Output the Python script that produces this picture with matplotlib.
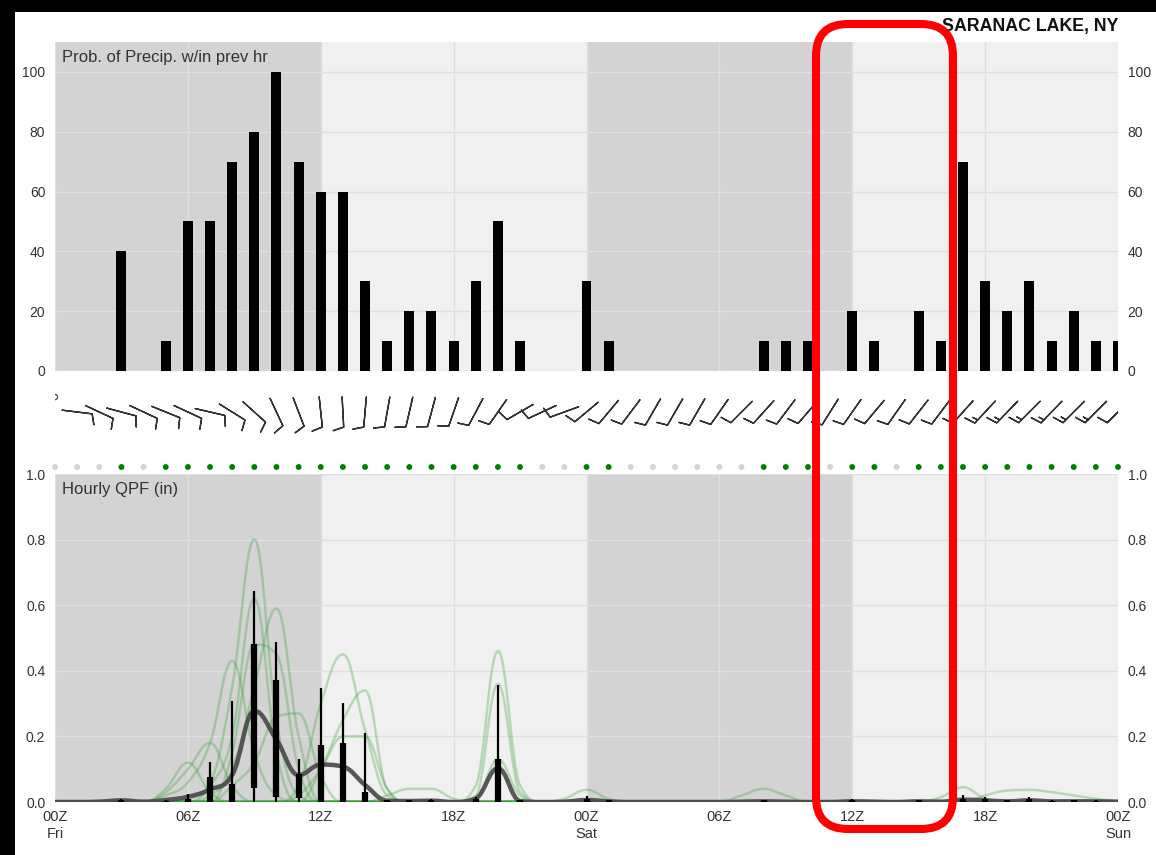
import numpy as np
import matplotlib.pyplot as plt
from matplotlib.path import Path
from matplotlib.patches import PathPatch, FancyBboxPatch, Rectangle

plt.rcParams['font.family'] = ['Liberation Sans', 'DejaVu Sans']

# hours since 00Z Fri
hours = np.arange(49)
tick_hours = [0, 6, 12, 18, 24, 30, 36, 42, 48]
tick_labels = ["00Z\nFri", "06Z", "12Z", "18Z", "00Z\nSat", "06Z", "12Z", "18Z", "00Z\nSun"]
night_start = [0, 24]
night_end = [12, 36]

# probability of precip in previous hour (%)
pop = [0, 0, 0, 40, 0, 10, 50, 50, 70, 80, 100, 70, 60, 60, 30, 10, 20, 20, 10, 30, 50, 10, 0, 0,
       30, 10, 0, 0, 0, 0, 0, 0, 10, 10, 10, 0, 20, 10, 0, 20, 10, 70, 30, 20, 30, 10, 20, 10, 10]

# wind (direction from, deg / speed, kt)
wind_dir = [0, 97, 115, 105, 115, 112, 115, 103, 122, 132, 155, 159, 174, 177, 185, 190, 193, 195,
            199, 208, 215, 240, 245, 250, 230, 220, 217, 210, 210, 210, 215, 225, 222, 217, 221,
            212, 215, 220, 215, 218, 217, 222, 223, 224, 225, 224, 225, 225, 225]
wind_spd = [0] + [10] * 40 + [15] * 7 + [10]

# QPF ensemble mean (in)
qpf_mean = [0, 0, 0.001, 0.005, 0.001, 0.006, 0.016, 0.038, 0.082, 0.278, 0.19, 0.082, 0.114,
            0.108, 0.052, 0.004, 0.003, 0.004, 0.0, 0.011, 0.103, 0.003, 0, 0.001, 0.006, 0.002,
            0, 0, 0, 0, 0, 0.001, 0.002, 0.001, 0, 0, 0.002, 0.001, 0, 0.002, 0.001, 0.007, 0.005,
            0.002, 0.005, 0.002, 0.002, 0.002, 0.001]

# QPF box / whisker stats
box_hours = [3, 5, 6, 7, 8, 9, 10, 11, 12, 13, 14, 15, 16, 17, 19, 20, 21, 24, 25, 32,
             36, 39, 41, 42, 43, 44, 45, 46, 47]
box_top = [0.010, 0.006, 0.025, 0.121, 0.309, 0.643, 0.487, 0.130, 0.349, 0.302, 0.211, 0.006,
           0.006, 0.008, 0.016, 0.357, 0.006, 0.018, 0.006, 0.006, 0.008, 0.006, 0.020, 0.016,
           0.006, 0.016, 0.005, 0.006, 0.005]
box_q3 = [0.006, 0.004, 0.010, 0.075, 0.055, 0.482, 0.371, 0.084, 0.175, 0.179, 0.031, 0.006,
          0.005, 0.006, 0.008, 0.130, 0.005, 0.008, 0.005, 0.005, 0.006, 0.005, 0.010, 0.008,
          0.005, 0.008, 0.004, 0.005, 0.004]
box_q1 = [0, 0, 0, 0, 0, 0.044, 0.016, 0.011, 0, 0, 0, 0, 0, 0, 0, 0, 0, 0, 0, 0,
          0, 0, 0, 0, 0, 0, 0, 0, 0]

# ensemble members: (first hour, hourly QPF), zero elsewhere
members = [
    (6, [0.01, 0.06, 0.35, 0.80, 0.25, 0.02, 0.0]),
    (7, [0.02, 0.10, 0.35, 0.59, 0.20, 0.0]),
    (4, [0.0, 0.02, 0.06, 0.18, 0.43, 0.15, 0.02, 0.0]),
    (10, [0.0, 0.05, 0.30, 0.45, 0.22, 0.02, 0.0]),
    (11, [0.0, 0.10, 0.25, 0.34, 0.04, 0.0]),
    (4, [0.0, 0.03, 0.10, 0.18, 0.05, 0.0]),
    (4, [0.0, 0.04, 0.12, 0.03, 0.0]),
    (8, [0.05, 0.12, 0.26, 0.27, 0.08, 0.0]),
    (11, [0.02, 0.10, 0.20, 0.20, 0.04, 0.0]),
    (7, [0.05, 0.20, 0.62, 0.15, 0.0]),
    (7, [0.0, 0.15, 0.48, 0.45, 0.10, 0.0]),
    (18, [0.0, 0.05, 0.46, 0.05, 0.0]),
    (18, [0.0, 0.02, 0.36, 0.03, 0.0]),
    (18, [0.0, 0.01, 0.13, 0.02, 0.0]),
    (14, [0.0, 0.02, 0.04, 0.04, 0.01, 0.0]),
    (22, [0.0, 0.01, 0.037, 0.01, 0.0]),
    (30, [0.0, 0.02, 0.04, 0.02, 0.0]),
    (39, [0.0, 0.015, 0.045, 0.01, 0.0]),
    (41, [0.0, 0.02, 0.035, 0.037, 0.03, 0.02, 0.01, 0.0]),
]


def spline_path(xs, ys, smoothing=1.5):
    # smooth curve through the points, control points kept inside neighbours
    n = len(xs)
    lc, rc = [None] * n, [None] * n
    for i in range(n):
        x, y = xs[i], ys[i]
        if i == 0 or i == n - 1:
            lc[i] = rc[i] = (x, y)
            continue
        lx, ly, nx, ny = xs[i - 1], ys[i - 1], xs[i + 1], ys[i + 1]
        d = smoothing + 1
        lcx, lcy = (smoothing * x + lx) / d, (smoothing * y + ly) / d
        rcx, rcy = (smoothing * x + nx) / d, (smoothing * y + ny) / d
        corr = ((rcy - lcy) * (rcx - x)) / (rcx - lcx) + y - rcy
        lcy += corr
        rcy += corr
        if lcy > max(ly, y):
            lcy = max(ly, y); rcy = 2 * y - lcy
        elif lcy < min(ly, y):
            lcy = min(ly, y); rcy = 2 * y - lcy
        if rcy > max(ny, y):
            rcy = max(ny, y); lcy = 2 * y - rcy
        elif rcy < min(ny, y):
            rcy = min(ny, y); lcy = 2 * y - rcy
        lc[i], rc[i] = (lcx, lcy), (rcx, rcy)
    verts = [(xs[0], ys[0])]
    codes = [Path.MOVETO]
    for i in range(1, n):
        verts += [rc[i - 1], lc[i], (xs[i], ys[i])]
        codes += [Path.CURVE4] * 3
    return Path(verts, codes)


W, H = 1156, 855
fig = plt.figure(figsize=(W / 100, H / 100), dpi=100)
fig.patch.set_facecolor('white')

left, width = 55 / W, 1063 / W
ax1 = fig.add_axes([left, 1 - 371 / H, width, 329 / H])
axm = fig.add_axes([left, 1 - 472 / H, width, 100 / H])
ax2 = fig.add_axes([left, 1 - 802 / H, width, 328 / H])

DARK, LIGHT, GRID, TXT = '#d3d3d3', '#f0f0f0', '#dfdfdf', '#333333'

for ax in (ax1, ax2):
    ax.set_facecolor(LIGHT)
    for s, e in zip(night_start, night_end):
        ax.axvspan(s, e, color=DARK, lw=0, zorder=0)
    ax.set_xlim(0, 48)
    ax.set_xticks(tick_hours)
    ax.grid(True, color=GRID, lw=1, zorder=1)
    ax.set_axisbelow(True)
    for sp in ax.spines.values():
        sp.set_visible(False)
    ax.tick_params(axis='y', length=0, labelleft=True, labelright=True,
                   labelsize=10, labelcolor=TXT, pad=7)

# top panel: PoP bars
ax1.set_ylim(0, 110)
ax1.set_yticks(range(0, 101, 20))
ax1.tick_params(axis='x', length=0, labelbottom=False)
ax1.bar(hours, pop, width=0.45, color='black', zorder=3)
ax1.text(0.007, 0.954, "Prob. of Precip. w/in prev hr", transform=ax1.transAxes,
         fontsize=12, color=TXT, va='center', ha='left')

# middle strip: wind barbs and precip dots
axm.set_xlim(0, 48)
axm.set_ylim(0, 100)
axm.axis('off')
spd = np.array(wind_spd, dtype=float)
rad = np.deg2rad(wind_dir)
u = -spd * np.sin(rad)
v = -spd * np.cos(rad)
windy = spd > 0
axm.barbs(hours[windy], np.full(windy.sum(), 60), u[windy], v[windy],
          length=6.6, pivot='middle', color='#333333', linewidth=1.0,
          sizes=dict(height=0.35, width=0.2, spacing=0.14))
axm.scatter(hours[~windy], np.full((~windy).sum(), 75), s=14, marker='o',
            facecolors='none', edgecolors='#555555', linewidths=1)
dot_colors = ['#008000' if p > 0 else '#d3d3d3' for p in pop]
axm.scatter(hours, np.full(len(hours), 5), s=18, c=dot_colors, lw=0, clip_on=False)

# bottom panel: QPF
ax2.set_ylim(0, 1.0)
ax2.set_yticks(np.arange(0, 1.01, 0.2))
ax2.set_yticklabels([f"{t:.1f}" for t in np.arange(0, 1.01, 0.2)])
ax2.set_xticklabels(tick_labels)
ax2.tick_params(axis='x', length=0, labelsize=10.5, labelcolor=TXT, pad=6)
for start, vals in members:
    m = np.zeros(len(hours))
    m[start:start + len(vals)] = vals
    ax2.add_patch(PathPatch(spline_path(hours, m), fill=False, ec='#35a035',
                            alpha=0.3, lw=1.8, zorder=2))
ax2.add_patch(PathPatch(spline_path(hours, qpf_mean), fill=False, ec='#474747',
                        alpha=0.9, lw=3.2, zorder=3))
ax2.vlines(box_hours, 0, box_top, color='black', lw=1.6, zorder=4)
ax2.vlines(box_hours, box_q1, box_q3, color='black', lw=4.5, zorder=4)
ax2.text(0.007, 0.954, "Hourly QPF (in)", transform=ax2.transAxes,
         fontsize=12, color=TXT, va='center', ha='left')

fig.text(1118 / W, 1 - 27 / H, "SARANAC LAKE, NY", ha='right', va='center',
         fontsize=12.8, fontweight='bold', color='#111111')

# overlay in pixel units: black frame edges and red highlight box
ov = fig.add_axes([0, 0, 1, 1], zorder=10)
ov.set_xlim(0, W)
ov.set_ylim(H, 0)
ov.axis('off')
ov.patch.set_alpha(0)
ov.add_patch(Rectangle((0, 0), W, 12, color='black', lw=0))
ov.add_patch(Rectangle((0, 0), 15, H, color='black', lw=0))
ov.add_patch(FancyBboxPatch((816, 24), 137, 805, boxstyle='round,pad=0,rounding_size=32',
                            fill=False, ec='#ff0000', lw=5.8))

fig.savefig('out.png', dpi=100)
